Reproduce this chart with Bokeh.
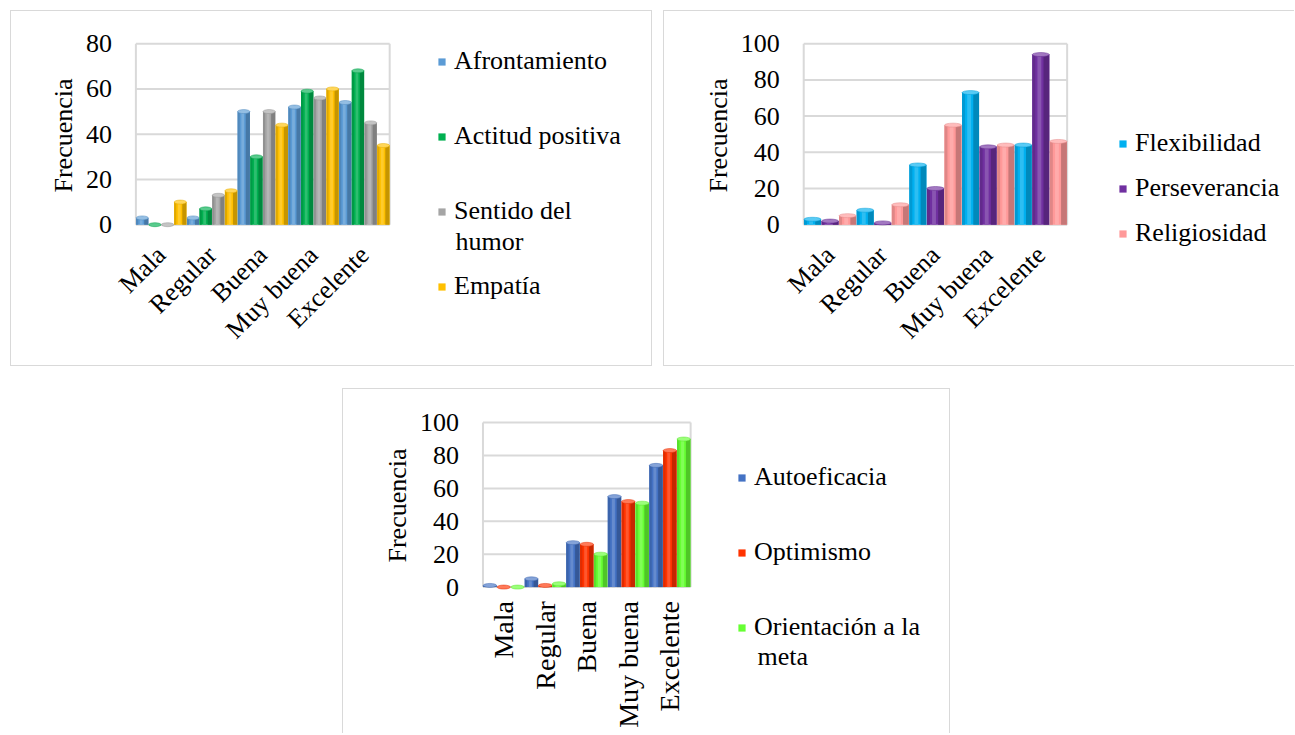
import math
from bokeh.plotting import figure
from bokeh.models import (ColumnDataSource, Range1d, FixedTicker, Legend, LegendItem,
                          Label, Spacer)
from bokeh.layouts import row, column
from bokeh.transform import dodge
from bokeh.embed import file_html
from bokeh.resources import INLINE

# ---------------- data ----------------
categories = ["Mala", "Regular", "Buena", "Muy buena", "Excelente"]

# panel 1
afrontamiento = [3, 3, 50, 52, 54]
actitud_positiva = [0, 7, 30, 59, 68]
sentido_del_humor = [0, 13, 50, 56, 45]
empatia = [10, 15, 44, 60, 35]

# panel 2
flexibilidad = [3, 8, 33, 73, 44]
perseverancia = [2, 1, 20, 43, 94]
religiosidad = [5, 11, 55, 44, 46]

# panel 3
autoeficacia = [1, 5, 27, 55, 74]
optimismo = [0, 1, 26, 52, 83]
orientacion_meta = [0, 2, 20, 51, 90]

y_ticks_80 = [0, 20, 40, 60, 80]
y_ticks_100 = [0, 20, 40, 60, 80, 100]

FONT = "Liberation Serif"
GRID = "#D9D9D9"
BORDER = "1px solid #D9D9D9"


def shade(hex_color, f):
    h = hex_color.lstrip("#")
    r, g, b = (int(h[i:i + 2], 16) for i in (0, 2, 4))
    if f < 1:
        r, g, b = (int(c * f) for c in (r, g, b))
    else:
        t = f - 1
        r, g, b = (int(c + (255 - c) * t) for c in (r, g, b))
    return "#%02x%02x%02x" % (r, g, b)


def make_panel(width, height, canvas, origin, cat_px, unit_px, ymax, ticks,
               orient, x_label_size, x_standoff, series, leg_xy, leg_spacing,
               ylabel_xy, extra, styles):
    # canvas: (left, top, right, bottom) page pixels of the drawing area
    # origin: page pixel of (x=0, y=0) data point; cat_px/unit_px: scale
    cl, ct, cr, cb = canvas
    ox, oy = origin
    x_range = Range1d((cl - ox) / cat_px, (cr - ox) / cat_px)
    y_range = Range1d((oy - cb) / unit_px, (oy - ct) / unit_px)
    p = figure(width=width, height=height, x_range=x_range, y_range=y_range,
               output_backend="svg", toolbar_location=None,
               min_border_left=0, min_border_right=0, min_border_top=0,
               min_border_bottom=0, background_fill_color="white",
               border_fill_color="white")
    p.styles = styles
    p.outline_line_color = None
    p.xgrid.grid_line_color = None
    p.ygrid.grid_line_color = None

    ncat = len(categories)
    idx = [i + 0.5 for i in range(ncat)]

    # grid lines and walls of the plot area
    p.segment(x0=[0] * len(ticks), x1=[ncat] * len(ticks), y0=ticks, y1=ticks,
              line_color=GRID, line_width=2)
    p.segment(x0=[0, ncat], x1=[0, ncat], y0=[0, 0], y1=[ymax, ymax],
              line_color=GRID, line_width=2)

    # axes fixed at the data origin
    p.yaxis.fixed_location = 0
    p.xaxis.fixed_location = 0
    p.yaxis.ticker = FixedTicker(ticks=ticks)
    p.xaxis.ticker = FixedTicker(ticks=idx)
    p.xaxis.major_label_overrides = {v: c for v, c in zip(idx, categories)}
    for ax in (p.xaxis[0], p.yaxis[0]):
        ax.axis_line_color = None
        ax.major_tick_line_color = None
        ax.minor_tick_line_color = None
        ax.major_label_text_font = FONT
        ax.major_label_text_color = "black"
    p.yaxis.major_label_text_font_size = "26px"
    p.xaxis.major_label_text_font_size = x_label_size
    p.yaxis.major_label_standoff = 18
    p.xaxis.major_label_orientation = orient
    p.xaxis.major_label_standoff = x_standoff

    p.add_layout(Label(x=ylabel_xy[0], y=ylabel_xy[1], x_units="screen", y_units="screen",
                       text="Frecuencia", angle=math.pi / 2, text_font=FONT,
                       text_font_size="26px", text_color="black",
                       text_align="center", text_baseline="middle"))

    n = len(series)
    w = 1.0 / n
    data = {"idx": idx}
    for i, (_, vals, _) in enumerate(series):
        data["s%d" % i] = vals
    src = ColumnDataSource(data)

    items = []
    for i, (name, vals, color) in enumerate(series):
        off = -0.5 + (i + 0.5) * w
        col = "s%d" % i
        r = p.vbar(x=dodge("idx", off), top=col, width=w * 0.97,
                   source=src, fill_color=color, line_color=None)
        p.vbar(x=dodge("idx", off + 0.32 * w), top=col, width=w * 0.33,
               source=src, fill_color=shade(color, 0.78), line_color=None)
        p.vbar(x=dodge("idx", off - 0.40 * w), top=col, width=w * 0.17,
               source=src, fill_color=shade(color, 0.88), line_color=None)
        p.vbar(x=dodge("idx", off - 0.08 * w), top=col, width=w * 0.22,
               source=src, fill_color=shade(color, 1.18), line_color=None)
        p.ellipse(x=dodge("idx", off), y=col, width=w * 0.97, height=4,
                  height_units="screen", source=src, fill_color=shade(color, 1.35),
                  line_color=shade(color, 0.9), line_width=0.5)
        items.append(LegendItem(label=name, renderers=[r]))

    leg = Legend(items=items, location=leg_xy, orientation="vertical",
                 spacing=leg_spacing, padding=0, margin=0, border_line_color=None,
                 background_fill_alpha=0, glyph_width=9, glyph_height=9,
                 label_height=30, label_standoff=8,
                 label_text_font=FONT, label_text_font_size="26px",
                 label_text_color="black")
    p.add_layout(leg, "center")
    for (txt, x, y) in extra:
        p.add_layout(Label(x=x, y=y, x_units="screen", y_units="screen", text=txt,
                           text_font=FONT, text_font_size="26px", text_color="black",
                           text_baseline="middle", text_align="left"))
    return p


# panel 1: border box 10..652 x 10..366
p1 = make_panel(642, 356, (11, 11, 651, 365), (135, 223), 50.6, 2.25, 80, y_ticks_80,
                math.pi / 4, "26px", 20,
                [("Afrontamiento", afrontamiento, "#5B9BD5"),
                 ("Actitud positiva", actitud_positiva, "#00B050"),
                 ("Sentido del", sentido_del_humor, "#A5A5A5"),
                 ("Empatía", empatia, "#FFC000")],
                (426, 66), 45, (52, 232), [("humor", 444, 126)],
                {"border": BORDER})

# panel 2: border box 663..1294 x 10..366 (right side cut)
p2 = make_panel(631, 356, (664, 11, 1294, 365), (803, 223), 52.6, 1.8, 100, y_ticks_100,
                math.pi / 4, "26px", 20,
                [("Flexibilidad", flexibilidad, "#00B0F0"),
                 ("Perseverancia", perseverancia, "#7030A0"),
                 ("Religiosidad", religiosidad, "#FF9999")],
                (454, 119), 15, (54, 232), [],
                {"border-left": BORDER, "border-top": BORDER, "border-bottom": BORDER})

# panel 3: border box 342..950 x 388..733 (bottom cut)
p3 = make_panel(608, 345, (343, 389, 949, 733), (482, 586), 41.4, 1.64, 100, y_ticks_100,
                math.pi / 2, "28px", 8,
                [("Autoeficacia", autoeficacia, "#4472C4"),
                 ("Optimismo", optimismo, "#FF3300"),
                 ("Orientación a la", orientacion_meta, "#66FF33")],
                (394, 92), 45, (54, 229), [("meta", 414, 78)],
                {"border-left": BORDER, "border-top": BORDER, "border-right": BORDER})

layout = column(Spacer(height=10),
                row(Spacer(width=10), p1, Spacer(width=11), p2),
                Spacer(height=22),
                row(Spacer(width=342), p3))

open("out.html", "w").write(file_html(layout, INLINE))
